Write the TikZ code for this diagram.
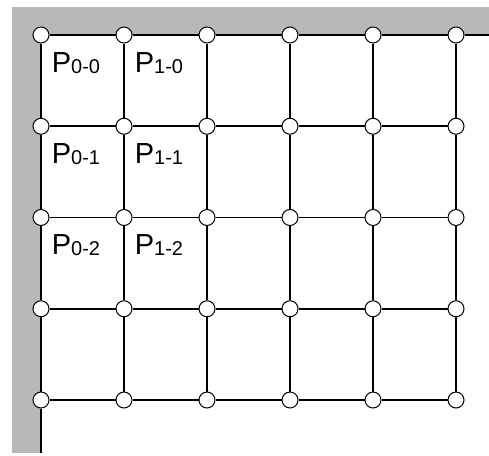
\documentclass[tikz,border=0pt]{standalone}
\usepackage{fontspec}
\setmainfont{Liberation Sans}
\tikzstyle{vx}=[shape=circle, minimum size=16pt, inner sep=0, draw=black, line width=1pt, fill=white]
\tikzstyle{wall}=[fill=black!28]
\tikzstyle{cell}=[anchor=base west, inner sep=0, font=\fontsize{29}{32}\selectfont]
\newcommand{\plab}[2]{P\raisebox{-1pt}{\fontsize{20}{22}\selectfont #1-#2}}

\begin{document}
\begin{tikzpicture}[x=1pt, y=-1pt, line width=1.6pt]
\useasboundingbox (0,0) rectangle (489,455);
\fill[wall] (12,7) rectangle (489,35);
\fill[wall] (12,35) rectangle (41,453);
\foreach \i in {0,...,5}
\foreach \j in {0,...,4}
{
\node[vx] (n\i\j) at (41+83*\i, 35+91.25*\j) {};
}
\foreach \i in {0,...,4}
\foreach \j in {0,...,4}
{
\pgfmathparse{int(\i+1)}
\draw (n\i\j) -- (n\pgfmathresult\j);
}
\foreach \i in {0,...,5}
\foreach \j in {0,...,3}
{
\pgfmathparse{int(\j+1)}
\draw (n\i\j) -- (n\i\pgfmathresult);
}
\coordinate (tr) at (489,35);
\coordinate (bl) at (41,453);
\draw (n50) -- (tr);
\draw (n04) -- (bl);
\foreach \i in {0,1}
\foreach \j in {0,1,2}
{
\node[cell] (p\i\j) at (51+83*\i, 72+91.25*\j) {\plab{\i}{\j}};
}
\end{tikzpicture}
\end{document}
